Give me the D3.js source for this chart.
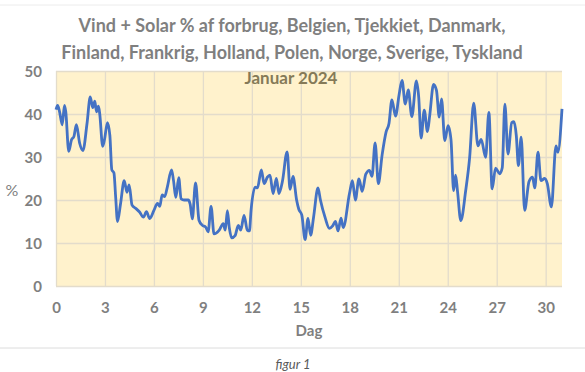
<!DOCTYPE html>
<html>
<head>
<meta charset="utf-8">
<script src="https://cdn.jsdelivr.net/npm/d3@7"></script>
<style>
  body { margin: 0; background: #fff; }
  svg text { font-family: Lato, "Open Sans", sans-serif; }
</style>
</head>
<body>
<div id="chart1"></div>
<script>
// DATA (day of month, % of consumption)

const dag = [0.00, 0.10, 0.22, 0.38, 0.52, 0.60, 0.78, 0.95, 1.10, 1.25, 1.45, 1.65, 1.90, 2.10, 2.25, 2.38, 2.48, 2.60, 2.68, 2.86, 2.97,
    3.15, 3.30, 3.42, 3.55, 3.65, 3.77, 3.95, 4.18, 4.35, 4.48, 4.66, 4.90, 5.12, 5.36, 5.54, 5.74, 6.00, 6.22, 6.36, 6.50, 6.66, 6.82,
    7.08, 7.20, 7.34, 7.52, 7.66, 7.85, 8.10, 8.22, 8.35, 8.55, 8.76, 8.97, 9.17, 9.32, 9.50, 9.68, 10.00, 10.25, 10.37, 10.50, 10.62,
    10.77, 10.97, 11.17, 11.32, 11.52, 11.72, 11.85, 11.95, 12.20, 12.34, 12.58, 12.75, 12.95, 13.11, 13.30, 13.50, 13.66, 13.87, 14.16,
    14.34, 14.52, 14.74, 14.88, 15.06, 15.26, 15.44, 15.60, 15.78, 16.05, 16.20, 16.48, 16.75, 16.95, 17.12, 17.28, 17.46, 17.60, 17.98,
    18.16, 18.34, 18.56, 18.76, 18.98, 19.20, 19.36, 19.55, 19.75, 19.98, 20.22, 20.40, 20.58, 20.80, 21.02, 21.20, 21.40, 21.58, 21.80,
    22.08, 22.22, 22.37, 22.56, 22.76, 22.90, 23.13, 23.31, 23.48, 23.62, 23.82, 24.02, 24.20, 24.36, 24.48, 24.60, 24.80, 25.10, 25.34,
    25.59, 25.85, 26.05, 26.32, 26.52, 26.72, 26.93, 27.18, 27.34, 27.50, 27.69, 27.92, 28.06, 28.20, 28.33, 28.50, 28.71, 28.98, 29.20,
    29.33, 29.53, 29.71, 29.94, 30.10, 30.35, 30.63, 30.75, 31.00];

const pct = [41.0, 42.0, 40.5, 37.5, 42.0, 40.5, 31.3, 34.0, 34.8, 37.5, 33.2, 31.5, 37.8, 44.0, 41.5, 43.0, 40.5, 41.8, 40.0, 32.5, 34.0,
    38.0, 35.0, 27.0, 26.3, 21.0, 15.0, 19.0, 24.5, 21.8, 23.5, 18.8, 18.0, 17.2, 16.0, 17.3, 15.7, 17.6, 19.2, 18.5, 21.2, 20.8, 23.0,
    27.0, 24.5, 20.6, 25.2, 20.3, 20.0, 20.0, 19.0, 15.6, 24.0, 15.3, 14.1, 13.7, 12.6, 18.5, 12.1, 13.0, 14.5, 13.0, 17.5, 13.5,
    11.2, 11.7, 14.1, 13.0, 16.4, 13.0, 12.8, 17.6, 23.0, 22.8, 27.0, 23.8, 25.3, 25.8, 21.5, 25.0, 21.5, 24.3, 31.2,
    22.5, 25.5, 20.0, 17.8, 16.5, 10.8, 15.7, 11.8, 16.0, 22.8, 20.0, 16.0, 13.4, 14.0, 15.0, 12.8, 15.8, 13.6, 21.5,
    24.5, 20.0, 24.9, 22.0, 26.0, 26.9, 25.5, 33.3, 23.8, 30.5, 35.8, 37.8, 43.3, 39.5, 44.5, 47.8, 42.3, 45.6, 39.4,
    47.7, 44.0, 34.4, 40.9, 35.9, 39.8, 46.9, 45.5, 39.3, 43.5, 33.8, 37.3, 34.0, 22.2, 25.8, 22.0, 15.2, 22.2, 29.8,
    42.5, 32.6, 34.1, 29.9, 40.4, 22.6, 27.4, 26.1, 27.5, 42.3, 30.7, 38.0, 38.2, 35.0, 28.0, 34.6, 17.6, 24.3, 25.3,
    22.8, 31.1, 24.5, 25.0, 23.8, 18.4, 32.6, 31.1, 41.2];

const xTicks = [0, 3, 6, 9, 12, 15, 18, 21, 24, 27, 30];
const yTicks = [0, 10, 20, 30, 40, 50];

const titleLines = ["Vind + Solar % af forbrug, Belgien, Tjekkiet, Danmark,",
    "Finland, Frankrig, Holland, Polen, Norge, Sverige, Tyskland"];
const subTitle = "Januar 2024";

// SET UP

const chartwidth = 585;
const chartheight = 372;
const margin = {top: 71, left: 56, right: 23, bottom: 86};

const svg = d3.select("#chart1")
    .append("svg")
    .attr("width", chartwidth)
    .attr("height", chartheight);

const data = dag.map(function(d, i) { return {dag: d, pct: pct[i]}; });

// SCALES

const xScale = d3.scaleLinear()
    .domain([0, 31])
    .range([margin.left, chartwidth - margin.right]);

const yScale = d3.scaleLinear()
    .domain([0, 50])
    .range([chartheight - margin.bottom, margin.top]);

// PLOT BACKGROUND + GRID

svg.append("rect")
    .attr("x", xScale(0))
    .attr("y", yScale(50))
    .attr("width", xScale(31) - xScale(0))
    .attr("height", yScale(0) - yScale(50))
    .attr("fill", "#fff2cc");

svg.append("g")
    .attr("transform", `translate(0,${yScale(0)})`)
    .call(d3.axisBottom(xScale).tickValues(xTicks).tickSize(-(yScale(0) - yScale(50))).tickFormat(""))
    .call(g => g.select(".domain").remove())
    .selectAll("line").attr("stroke", "#e3dccb").attr("stroke-width", 1.3);

svg.append("g")
    .attr("transform", `translate(${xScale(0)},0)`)
    .call(d3.axisLeft(yScale).tickValues(yTicks).tickSize(-(xScale(31) - xScale(0))).tickFormat(""))
    .call(g => g.select(".domain").remove())
    .selectAll("line").attr("stroke", "#e3dccb").attr("stroke-width", 1.3);

// AXES LABELS (ticks)

const xAxis = svg.append("g")
    .attr("transform", `translate(0,${yScale(0) + 8})`)
    .call(d3.axisBottom(xScale).tickValues(xTicks).tickSize(0).tickPadding(8))
    .call(g => g.select(".domain").remove());
xAxis.selectAll("text")
    .attr("fill", "#7f7f7f")
    .style("font-size", "15px")
    .style("font-weight", "700");

const yAxis = svg.append("g")
    .attr("transform", `translate(${xScale(0) - 14},0)`)
    .call(d3.axisLeft(yScale).tickValues(yTicks).tickSize(0).tickPadding(0))
    .call(g => g.select(".domain").remove());
yAxis.selectAll("text")
    .attr("fill", "#7f7f7f")
    .attr("dy", "0.35em")
    .style("font-size", "15px")
    .style("font-weight", "700");

// LINE

const line = d3.line()
    .x(function(d) { return xScale(d.dag); })
    .y(function(d) { return yScale(d.pct); })
    .curve(d3.curveMonotoneX);

svg.append("path")
    .datum(data)
    .attr("d", line)
    .attr("fill", "none")
    .attr("stroke", "#4472c4")
    .attr("stroke-width", 2.8)
    .attr("stroke-linejoin", "round");

// TITLES

svg.selectAll(".title")
    .data(titleLines)
    .enter()
    .append("text")
    .attr("class", "title")
    .attr("x", 292)
    .attr("y", function(d, i) { return 32 + i * 27; })
    .attr("text-anchor", "middle")
    .attr("fill", "#7f7f7f")
    .style("font-size", "18px")
    .style("font-weight", "700")
    .text(function(d) { return d; });

svg.append("text")
    .attr("x", 291)
    .attr("y", 84)
    .attr("text-anchor", "middle")
    .attr("fill", "#857a58")
    .style("font-size", "17px")
    .style("font-weight", "700")
    .text(subTitle);

svg.append("text")
    .attr("x", 12)
    .attr("y", 196)
    .attr("text-anchor", "middle")
    .attr("fill", "#7f7f7f")
    .style("font-size", "16px")
    .text("%");

svg.append("text")
    .attr("x", (xScale(0) + xScale(31)) / 2)
    .attr("y", 336)
    .attr("text-anchor", "middle")
    .attr("fill", "#7f7f7f")
    .style("font-size", "15px")
    .style("font-weight", "700")
    .text("Dag");

// FRAME LINES + CAPTION

svg.append("line")
    .attr("x1", 0).attr("x2", chartwidth)
    .attr("y1", 5).attr("y2", 5)
    .attr("stroke", "#ececec");

svg.append("line")
    .attr("x1", 0).attr("x2", chartwidth)
    .attr("y1", 348).attr("y2", 348)
    .attr("stroke", "#dcdcdc");

svg.append("text")
    .attr("x", 293)
    .attr("y", 369)
    .attr("text-anchor", "middle")
    .attr("fill", "#595959")
    .style("font-size", "13px")
    .style("font-style", "italic")
    .text("figur 1");
</script>
</body>
</html>
